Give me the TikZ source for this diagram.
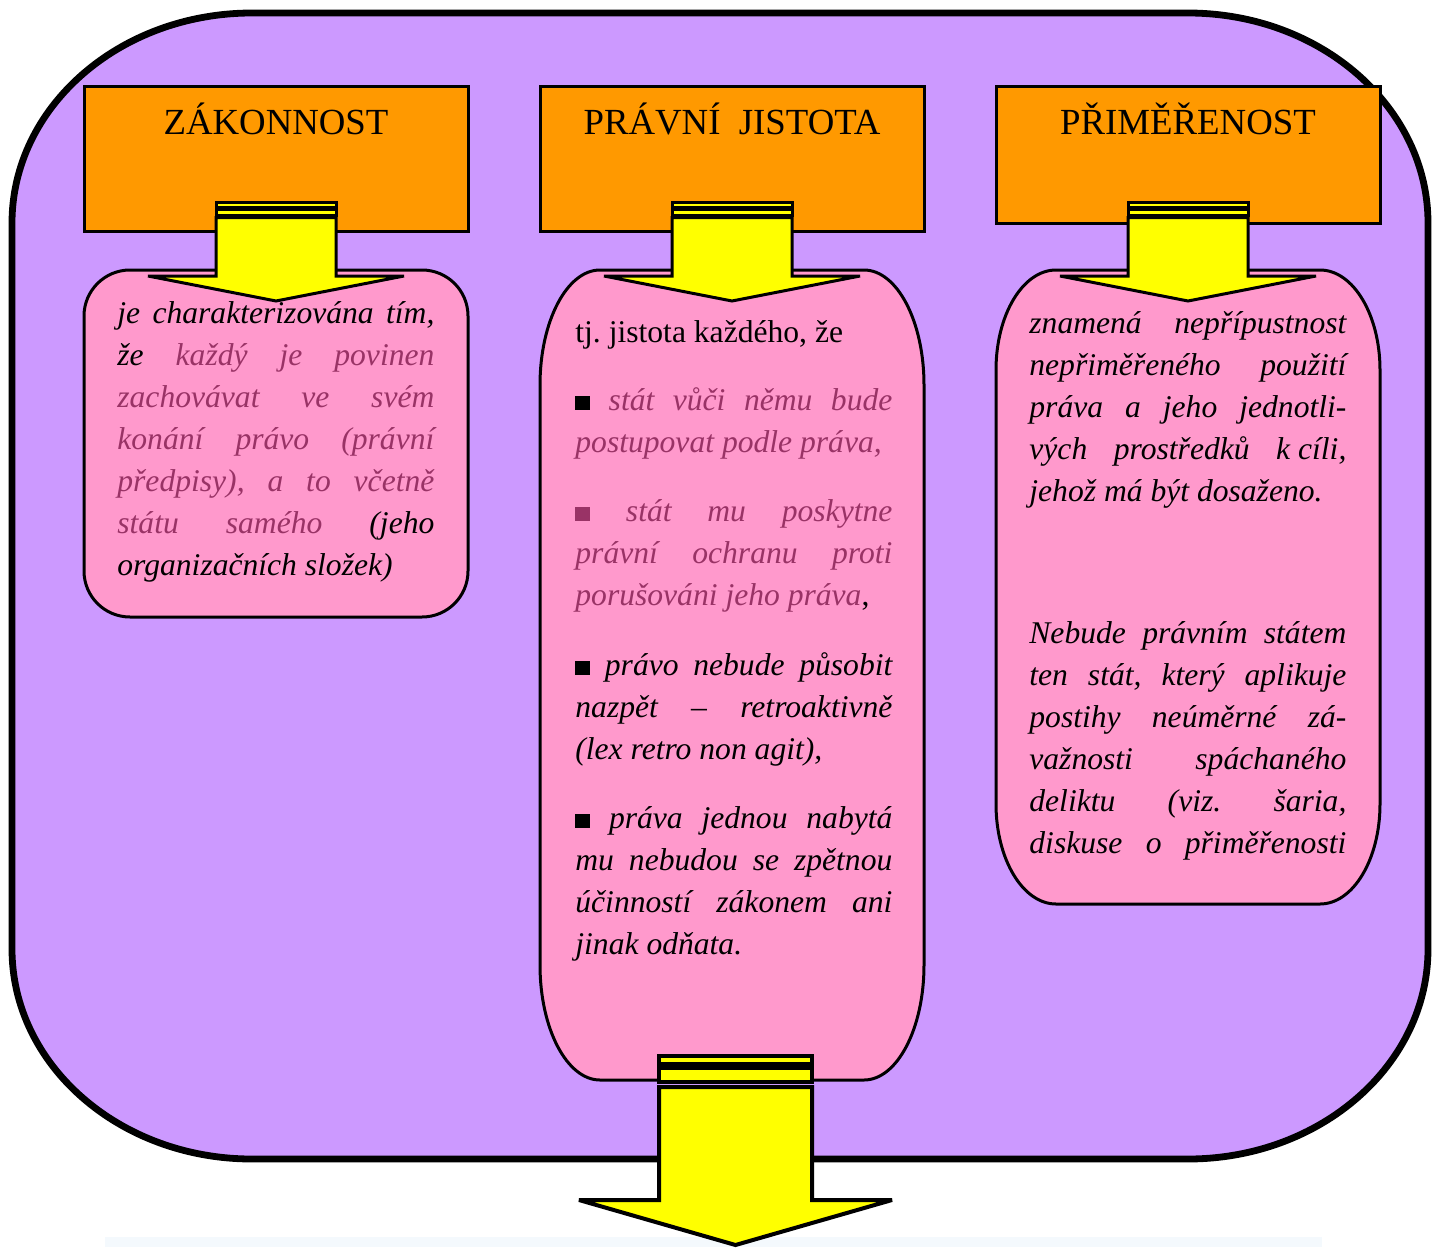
\documentclass[tikz,border=0pt]{standalone}
\usepackage{fontspec}
\setmainfont{Liberation Serif}
\frenchspacing
\definecolor{lilac}{HTML}{CC99FF}
\definecolor{orng}{HTML}{FF9900}
\definecolor{yell}{HTML}{FFFF00}
\definecolor{pnk}{HTML}{FF99CC}
\definecolor{mauve}{HTML}{993366}
\definecolor{pale}{HTML}{F4F9FD}
\newcommand{\myerect}[7]{%
 \path[#1] ({#2+#6},{-#3}) -- ({#4-#6},{-#3})
   arc[start angle=90,end angle=0,x radius=#6,y radius=#7] -- ({#4},{-#5+#7})
   arc[start angle=0,end angle=-90,x radius=#6,y radius=#7] -- ({#2+#6},{-#5})
   arc[start angle=270,end angle=180,x radius=#6,y radius=#7] -- ({#2},{-#3-#7})
   arc[start angle=180,end angle=90,x radius=#6,y radius=#7] -- cycle;}
\newcommand{\smallarrow}[1]{%
 \draw[arrowpart] ({#1-60},-202) rectangle ({#1+60},-207);
 \draw[arrowpart] ({#1-60},-209.5) rectangle ({#1+60},-215);
 \draw[arrowpart] ({#1-60},-217.5) -- ({#1-60},-276) -- ({#1-128},-276) -- (#1,-301)
   -- ({#1+128},-276) -- ({#1+60},-276) -- ({#1+60},-217.5) -- cycle;}
\newcommand{\bsq}[1]{\textcolor{#1}{\rule{7.4pt}{7pt}}}
\begin{document}
\begin{tikzpicture}[x=0.5pt,y=0.5pt,
  outerbox/.style={fill=lilac,draw=black,line width=3.4pt},
  titlebox/.style={fill=orng,draw=black,line width=1.5pt},
  pinkbox/.style={fill=pnk,draw=black,line width=1.5pt},
  arrowpart/.style={fill=yell,draw=black,line width=1.5pt,line join=miter,miter limit=4},
  bigarrow/.style={fill=yell,draw=black,line width=2pt,line join=miter,miter limit=4},
  titletext/.style={font=\fontsize{18.4}{22}\selectfont,inner sep=0pt,anchor=base},
  bodytext/.style={text width=158.5pt,align=justify,inner sep=0pt,anchor=base west,
     font=\fontsize{15.8}{21}\selectfont\itshape}]
\useasboundingbox (0,0) rectangle (1439,-1247);
% outer frame
\myerect{outerbox}{12}{13}{1428}{1159}{240}{210}
% title boxes
\draw[titlebox] (84,-87) rectangle (468,-231);
\draw[titlebox] (540,-87) rectangle (924,-231);
\draw[titlebox] (996,-87) rectangle (1380,-223);
\node[titletext] (t1) at (276,-134) {ZÁKONNOST};
\node[titletext] (t2) at (732,-134) {PRÁVNÍ\ \ JISTOTA};
\node[titletext] (t3) at (1188,-134) {PŘIMĚŘENOST};
% pink boxes
\myerect{pinkbox}{84}{270}{468}{617}{46}{46}
\myerect{pinkbox}{540}{270}{924}{1080}{60}{115}
\myerect{pinkbox}{996}{270}{1380}{904}{60}{100}
% small arrows
\smallarrow{276}
\smallarrow{732}
\smallarrow{1188}
% left text
\node[bodytext] (b1) at (117,-323) {je charakterizována tím,\linebreak
že \textcolor{mauve}{každý je povinen\linebreak zachovávat ve svém\linebreak konání právo (právní\linebreak předpisy), a to včetně\linebreak státu samého} (jeho\linebreak organizačních složek)};
% middle text
\node[font=\fontsize{15.8}{21}\selectfont,inner sep=0pt,anchor=base west] (m0) at (575,-342) {tj. jistota každého, že};
\node[bodytext] (m1) at (575,-410) {\bsq{black} \textcolor{mauve}{stát vůči němu bude\linebreak postupovat podle práva,}};
\node[bodytext] (m2) at (575,-521) {\bsq{mauve} \textcolor{mauve}{stát mu poskytne\linebreak právní ochranu proti\linebreak porušováni jeho práva}\upshape,};
\node[bodytext] (m3) at (575,-675) {\bsq{black} právo nebude působit\linebreak nazpět – retroaktivně\linebreak (lex retro non agit),};
\node[bodytext] (m4) at (575,-828) {\bsq{black} práva jednou nabytá\linebreak mu nebudou se zpětnou\linebreak účinností zákonem ani\linebreak jinak odňata.};
% right text
\node[bodytext] (r1) at (1029,-333) {znamená nepřípustnost\linebreak nepřiměřeného použití\linebreak práva a jeho jednotli-\linebreak vých prostředků k\hspace{0.25em}cíli,\linebreak jehož má být dosaženo.};
\node[bodytext] (r2) at (1029,-643) {Nebude právním státem\linebreak ten stát, který aplikuje\linebreak postihy neúměrné zá-\linebreak važnosti spáchaného\linebreak deliktu (viz. šaria,\linebreak diskuse o přiměřenosti\parfillskip=0pt\par};
% pale strip
\fill[pale] (105,-1237) rectangle (1322,-1247);
% bottom arrow
\draw[bigarrow] (659,-1056) rectangle (812,-1064);
\draw[bigarrow] (659,-1068) rectangle (812,-1082);
\draw[bigarrow] (659,-1087) -- (659,-1200) -- (579,-1200) -- (735.5,-1245) -- (892,-1200) -- (812,-1200) -- (812,-1087) -- cycle;
\end{tikzpicture}
\end{document}
